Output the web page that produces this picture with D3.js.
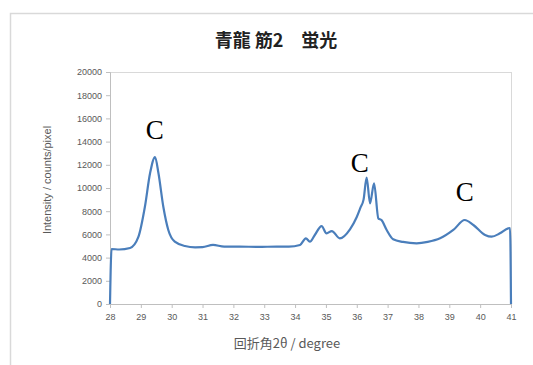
<!DOCTYPE html>
<html><head><meta charset="utf-8">
<script src="https://cdn.jsdelivr.net/npm/d3@7"></script>
<style>body{margin:0;background:#fff}</style>
</head><body>
<svg id="c" width="533" height="365"></svg>
<script>
const title = "青龍 筋2\u3000蛍光";
const xLabel = "回折角2θ / degree";
const yLabel = "Intensity / counts/pixel";
const xTicks = [28,29,30,31,32,33,34,35,36,37,38,39,40,41];
const yTicks = [0,2000,4000,6000,8000,10000,12000,14000,16000,18000,20000];
const angle = [28.0,28.05,28.3,28.65,28.92,29.13,29.3,29.46,29.57,29.73,29.89,30.1,30.43,30.76,31.0,31.34,31.7,32.2,32.8,33.4,33.8,34.16,34.35,34.48,34.64,34.86,35.02,35.19,35.45,35.78,36.0,36.12,36.22,36.32,36.43,36.56,36.7,36.8,36.97,37.18,37.5,37.94,38.3,38.7,39.13,39.5,39.78,40.16,40.37,40.64,40.91,40.97,41.0];
const intensity = [0,4740,4700,4830,5780,8360,11290,12670,11290,8360,6380,5370,5000,4890,4900,5090,4950,4950,4920,4950,4940,5090,5660,5370,5950,6720,6090,6290,5660,6440,7500,8300,9000,10900,8680,10400,7380,7240,6380,5580,5350,5230,5350,5660,6380,7240,6810,5950,5800,6090,6520,6550,0];
const peakLabels = ["C","C","C"];
const peakAngle = [29.45,36.1,39.5];
const peakLabelValue = [14200,11400,8900];

const svg = d3.select("#c");
const L=110,R=511,T=72,B=304;
const x = d3.scaleLinear().domain([28,41]).range([L,R]);
const y = d3.scaleLinear().domain([0,20000]).range([B,T]);

svg.append("rect").attr("x",10.5).attr("y",13.5).attr("width",700).attr("height",500)
  .attr("fill","none").attr("stroke","#d9d9d9").attr("stroke-width",1.5);

svg.append("text").attr("x",276).attr("y",47).attr("text-anchor","middle")
  .attr("font-family","'Noto Sans CJK JP'").attr("font-weight","bold").attr("font-size",18)
  .attr("fill","#222").text(title);

// plot frame
svg.append("line").attr("x1",L).attr("x2",R).attr("y1",T+0.5).attr("y2",T+0.5).attr("stroke","#d9d9d9");
svg.append("line").attr("x1",R+0.5).attr("x2",R+0.5).attr("y1",T).attr("y2",B).attr("stroke","#d9d9d9");

const ya = svg.append("g").attr("transform",`translate(${L},0)`)
  .call(d3.axisLeft(y).tickValues(yTicks).tickSize(4).tickPadding(4).tickFormat(d3.format("d")));
const xa = svg.append("g").attr("transform",`translate(0,${B})`)
  .call(d3.axisBottom(x).tickValues(xTicks).tickSize(4).tickPadding(6).tickFormat(d3.format("d")));
[ya,xa].forEach(g=>{
  g.selectAll("path").attr("stroke","#bfbfbf");
  g.selectAll("line").attr("stroke","#bfbfbf");
  g.selectAll("text").attr("fill","#595959").attr("font-family","'Liberation Sans'").attr("font-size",9);
});

svg.append("text").attr("transform","translate(51,180) rotate(-90)").attr("text-anchor","middle")
  .attr("font-family","'Liberation Sans'").attr("font-size",11).attr("fill","#595959").text(yLabel);
svg.append("text").attr("x",287).attr("y",348).attr("text-anchor","middle")
  .attr("font-family","'Noto Sans CJK JP'").attr("font-size",13).attr("fill","#595959").text(xLabel);

const line = d3.line().x((d,i)=>x(angle[i])).y(d=>y(d)).curve(d3.curveMonotoneX);
svg.append("path").datum(intensity).attr("d",line).attr("fill","none")
  .attr("stroke","#4a7ebb").attr("stroke-width",2.2).attr("stroke-linejoin","round");

svg.selectAll(".pl").data(peakLabels).enter().append("text")
  .attr("x",(d,i)=>x(peakAngle[i])).attr("y",(d,i)=>y(peakLabelValue[i]))
  .attr("text-anchor","middle").attr("font-family","'Liberation Serif'").attr("font-size",27)
  .attr("fill","#000").text(d=>d);
</script>
</body></html>
